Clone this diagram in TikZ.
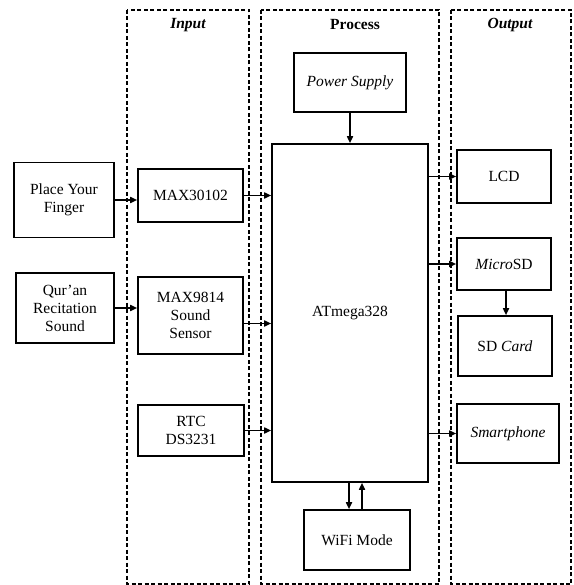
\documentclass[tikz,border=0pt]{standalone}
\usepackage{fontspec}
\setmainfont{Liberation Serif}
\usetikzlibrary{arrows.meta}
\begin{document}
\begin{tikzpicture}[x=1pt, y=-1pt,
    font=\fontsize{15.5}{18}\selectfont,
    blk/.style={draw, line width=1.6pt, align=center, inner sep=0pt},
    grp/.style={draw, line width=1.6pt, dash pattern=on 4pt off 2.5pt},
    con/.style={->, line width=1.6pt},
    ttl/.style={font=\fontsize{15.5}{18}\selectfont\bfseries},
    >={Triangle[length=7pt, width=6pt]}]
    \useasboundingbox (0,0) rectangle (573,585);
    % groups
    \draw[grp] (127,10) rectangle (249,584);
    \draw[grp] (261,10) rectangle (439,584);
    \draw[grp] (451,10) rectangle (571,584);
    \node[ttl, font=\fontsize{15.5}{18}\selectfont\bfseries\itshape] (tin) at (188,25) {Input};
    \node[ttl] (tproc) at (355,25) {Process};
    \node[ttl, font=\fontsize{15.5}{18}\selectfont\bfseries\itshape] (tout) at (510,25) {Output};
    % input side
    \node[blk, minimum width=100, minimum height=75] (finger) at (64,200) {Place Your\\Finger};
    \node[blk, minimum width=98, minimum height=70] (quran) at (65,308) {Qur’an\\Recitation\\Sound};
    \node[blk, minimum width=105, minimum height=53] (maxhr) at (190.5,195.5) {MAX30102};
    \node[blk, minimum width=105, minimum height=77] (maxsnd) at (190.5,315.5) {MAX9814\\Sound\\Sensor};
    \node[blk, minimum width=106, minimum height=51] (rtc) at (191,430.5) {RTC\\DS3231};
    % process
    \node[blk, minimum width=156, minimum height=338] (atmega) at (350,313) {ATmega328};
    \node[blk, minimum width=112, minimum height=59] (power) at (350,82.5) {\textit{Power Supply}};
    \node[blk, minimum width=106, minimum height=60] (wifi) at (357,540) {WiFi Mode};
    % output
    \node[blk, minimum width=94, minimum height=53] (lcd) at (504,176.5) {LCD};
    \node[blk, minimum width=94, minimum height=52] (microsd) at (504,264) {\textit{Micro}SD};
    \node[blk, minimum width=94, minimum height=60] (sdcard) at (505,346) {SD \textit{Card}};
    \node[blk, minimum width=102, minimum height=59] (phone) at (508,433.5) {\textit{Smartphone}};
    % connectors
    \draw[con] (finger.east) -- (finger.east -| maxhr.west);
    \draw[con] (quran.east) -- (quran.east -| maxsnd.west);
    \draw[con] (maxhr.east) -- (maxhr.east -| atmega.west);
    \draw[con] ([yshift=-8]maxsnd.east) -- ([yshift=-8]maxsnd.east -| atmega.west);
    \draw[con] (rtc.east) -- (rtc.east -| atmega.west);
    \draw[con] (power.south) -- (power.south |- atmega.north);
    \draw[con] (atmega.east |- lcd.west) -- (lcd.west);
    \draw[con] (atmega.east |- microsd.west) -- (microsd.west);
    \draw[con] (atmega.east |- phone.west) -- (phone.west);
    \draw[con] ([xshift=2]microsd.south) -- ([xshift=2]microsd.south |- sdcard.north);
    \draw[con] ([xshift=-8]wifi.north |- atmega.south) -- ([xshift=-8]wifi.north);
    \draw[con] ([xshift=5]wifi.north) -- ([xshift=5]wifi.north |- atmega.south);
\end{tikzpicture}
\end{document}
